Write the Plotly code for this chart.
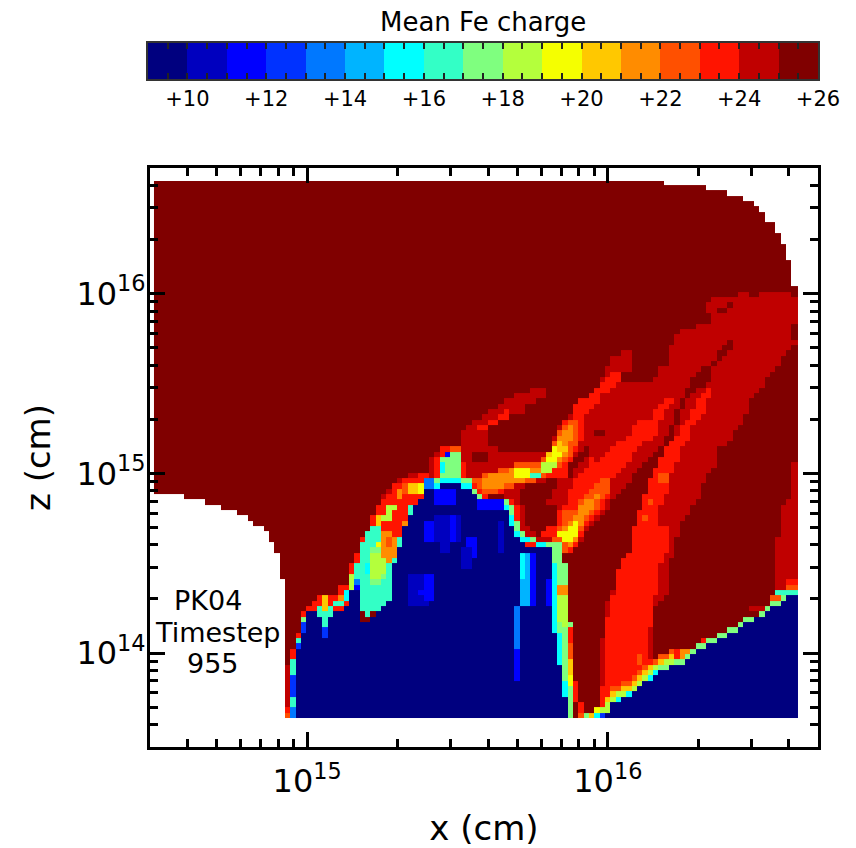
import numpy as np
import plotly.graph_objects as go

# Colour bands of the mean Fe charge scale (one band per unit charge)
BAND_EDGES = list(range(9, 27))
BAND_COLORS = ["#00007f", "#0000bf", "#0000ff", "#0032ff", "#0078ff", "#00b4ff", "#00ffff", "#33ffc6",
               "#7fff7f", "#b4ff3c", "#f5ff00", "#ffc800", "#ff8c00", "#ff5000", "#ff1400", "#c00000", "#800000"]
CBAR_MAJOR = [10, 12, 14, 16, 18, 20, 22, 24, 26]
CBAR_LABELS = ["+10", "+12", "+14", "+16", "+18", "+20", "+22", "+24", "+26"]
CBAR_MINOR = [9 + 0.5 * i for i in range(35) if (9 + 0.5 * i) not in CBAR_MAJOR]

# Digitised outlines of the charge regions, in digitising-grid units (x steps, z steps from the top-left
# corner of the simulated domain); converted to x and z with the calibration below.
DOMAIN = [(0,0),(483,0),(534,4),(561,8),(576,13),(587,17),(597,22),(602,26),(612,30),(612,39),(619,43),(623,52),(629,60),(634,73),(639,103),(644,103),(644,537),(130,537),(130,407),(126,382),(121,363),(115,356),(111,347),(100,342),(94,338),(79,331),(68,326),(53,321),(32,316),(0,312)]
PLUME_MAIN = [(456,179),(476,166),(478,182),(481,186),(468,191),(466,201),(479,201),(501,202),(502,192),(513,182),(513,171),(518,162),(523,152),(538,147),(555,142),(555,131),(549,127),(559,117),(583,117),(606,113),(613,111),(644,114),(644,161),(638,166),(633,171),(628,179),(623,187),(613,196),(612,207),(602,212),(595,222),(591,237),(581,247),(581,259),(564,266),(564,277),(556,292),(549,302),(544,321),(534,331),(528,342),(523,356),(518,374),(513,396),(513,416),(498,429),(498,519),(446,519),(446,419),(406,409),(376,364),(346,309),(386,289),(403,249),(413,236),(423,222),(439,209),(449,197)]
EDGE_RIGHT = [(639,282),(644,282),(644,409),(623,409),(623,356),(628,346),(628,322),(638,316),(638,289),(633,289)]
STREAK_UP = [(309,252),(316,242),(334,231),(341,226),(356,217),(366,212),(381,207),(388,205),(398,205),(392,209),(392,216),(378,222),(372,226),(366,234),(351,237),(346,242),(334,247),(334,266),(308,269)]
STREAK_LOW = [(308,269),(309,252),(334,252),(334,266),(368,272),(398,272),(388,282),(378,289),(361,287),(338,296),(318,299),(306,294)]
DARK_STREAK = [(573,159),(581,157),(581,164),(574,169),(568,179),(561,187),(555,192),(555,203),(541,207),(536,214),(530,224),(526,234),(522,247),(518,259),(510,274),(501,289),(494,304),(488,324),(482,334),(479,354),(476,364),(476,382),(466,396),(459,409),(455,419),(449,429),(449,456),(444,459),(444,501),(438,512),(438,524),(430,529),(423,532),(419,499),(413,447),(413,407),(406,409),(403,386),(409,374),(419,369),(429,356),(441,339),(454,327),(466,309),(476,299),(488,281),(504,269),(514,254),(523,229),(529,212),(536,201),(549,184),(558,186),(564,171)]
POCKET = [(368,306),(388,301),(403,296),(401,309),(388,326),(403,326),(403,342),(393,356),(388,357),(378,352),(373,347),(371,326),(368,322)]
BAND_MAIN = [(554,206),(559,206),(554,222),(546,237),(538,246),(538,259),(528,266),(523,279),(518,292),(513,312),(503,332),(503,346),(513,347),(513,372),(502,386),(502,416),(498,417),(498,446),(492,447),(492,476),(502,482),(506,499),(456,531),(443,531),(443,512),(449,501),(451,456),(454,429),(457,419),(462,399),(466,379),(476,369),(479,354),(482,334),(488,324),(493,306),(501,289),(511,267),(518,257),(523,254),(528,246),(534,239),(539,227),(549,212)]
BAND_MID = [(518,216),(518,224),(511,231),(503,242),(501,257),(486,262),(478,276),(474,282),(459,296),(458,312),(449,327),(434,341),(429,354),(424,359),(419,369),(409,372),(401,359),(386,356),(393,347),(401,342),(403,327),(411,326),(413,312),(423,292),(434,286),(436,277),(446,281),(456,269),(471,257),(483,242),(496,236),(501,231),(504,222)]
MID_O1 = [(456,296),(456,309),(446,322),(439,334),(429,342),(426,354),(419,364),(409,371),(398,356),(406,346),(409,332),(423,326),(429,316),(439,304)]
MID_O2 = [(444,314),(439,327),(429,339),(424,356),(418,366),(403,352),(423,332),(429,319)]
MID_Y = [(424,332),(427,332),(426,354),(414,362),(401,354),(409,352),(419,346)]
SPINE = [(449,202),(456,191),(466,191),(466,201),(458,207),(449,212),(444,224),(429,236),(429,257),(423,266),(419,279),(413,287),(413,296),(386,299),(361,304),(346,311),(329,317),(316,311),(316,301),(336,291),(356,285),(371,281),(386,282),(396,269),(403,252),(409,242),(419,236),(419,227),(423,222),(439,212)]
SPINE_O1 = [(421,237),(424,256),(421,267),(413,279),(401,287),(386,299),(361,305),(341,311),(324,314),(316,301),(336,292),(356,285),(371,282),(386,282),(396,267),(404,254),(413,241)]
SPINE_O2 = [(419,242),(418,256),(413,269),(408,279),(396,289),(376,299),(356,303),(336,308),(326,309),(326,297),(346,291),(361,287),(386,284),(398,267),(406,254)]
SPINE_O3 = [(409,256),(413,271),(406,277),(396,287),(386,293),(387,284),(398,266)]
SPINE_Y = [(399,266),(409,269),(408,277),(399,281),(391,285)]
SPINE_Y2 = [(361,287),(374,287),(374,299),(361,299)]
SPINE_GY = [(388,283),(402,281),(399,289),(389,294)]
SPINE_T = [(376,291),(389,289),(388,296),(378,300)]
PEAK_FRINGE = [(271,297),(278,277),(291,264),(291,297)]
MOUND_RIM = [(278,294),(283,277),(289,266),(304,264),(309,279),(311,294),(324,307),(336,317),(363,322),(370,357),(378,363),(404,359),(412,394),(412,409),(391,409),(346,359),(276,329)]
LEFT_FRINGE = [(224,321),(241,299),(271,289),(276,299),(246,319)]
LEFT_PLUME = [(151,429),(158,422),(163,417),(183,416),(184,407),(192,404),(194,394),(199,381),(204,372),(204,364),(209,356),(215,347),(219,334),(230,317),(241,304),(246,301),(256,296),(273,292),(279,297),(279,324),(266,344),(256,379),(238,424),(196,431)]
LP_TEAL = [(199,397),(204,376),(209,361),(216,347),(224,347),(231,379),(238,379),(238,419),(229,426),(216,431),(209,439),(206,409),(198,409)]
LP_G = [(216,364),(229,364),(234,394),(221,404),(214,409)]
LP_GY = [(218,374),(231,374),(231,394),(221,402),(217,394)]
LP_O = [(226,349),(239,349),(243,371),(238,384),(231,381),(227,364)]
LP_GY2 = [(231,324),(241,324),(238,337),(229,339)]
LP_O3 = [(219,336),(230,336),(226,347),(219,347)]
LP_T2 = [(216,347),(226,347),(224,361),(213,361)]
LP_RIM = [(239,379),(246,356),(251,342),(256,326),(263,326),(258,344),(249,364),(244,384),(238,409)]
MOUND_G = [(278,300),(284,294),(307,294),(316,297),(322,309),(332,317),(354,319),(362,329),(364,352),(371,360),(396,362),(408,362),(413,394),(416,439),(420,499),(421,537),(413,537),(409,501),(398,437),(398,367),(346,340),(290,330)]
MOUND_C = [(278,305),(284,299),(306,299),(315,302),(320,314),(330,322),(352,324),(358,334),(362,352),(368,362),(394,365),(399,368),(401,394),(404,437),(411,499),(415,537),(413,537),(398,437),(398,367),(346,345),(290,340)]
STRIP_1 = [(403,402),(413,404),(413,417),(404,417)]
STRIP_2 = [(403,417),(413,417),(414,444),(406,444)]
MOUND = [(142,537),(142,466),(146,461),(146,449),(152,447),(152,429),(162,429),(180,431),(191,426),(196,417),(198,409),(206,409),(207,439),(215,439),(229,428),(238,416),(238,394),(241,377),(246,364),(249,352),(253,342),(261,324),(266,319),(273,306),(286,305),(306,305),(319,312),(324,324),(351,324),(354,334),(361,352),(368,362),(376,367),(398,367),(398,437),(403,467),(409,501),(413,537)]
PEAK_G = [(291,269),(304,269),(307,294),(283,294),(284,282)]
STREAK_BRIGHT = [(324,247),(336,239),(354,229),(356,235),(343,241),(331,249)]
DARK_GAP = [(434,264),(434,274),(421,286),(419,296),(413,296),(413,287),(421,274)]
WEDGE_TOP = [(449,537),(455,527),(461,521),(476,516),(486,506),(496,498),(506,491),(518,486),(529,481),(539,472),(554,463),(569,456),(581,451),(591,442),(606,437),(613,428),(623,426),(629,421),(633,412),(644,412)]
WEDGE_BASE = [(644,537)]

# (charge, outline) painted in order
def box(a, b, c, d):
    return [(a, b), (c, b), (c, d), (a, d)]

def lifted(points, dv, closing):
    return [(u, v - dv) for u, v in points] + closing

WEDGE_LEFT = WEDGE_TOP[:8]
WEDGE_RIGHT = WEDGE_TOP[6:]

LAYERS = [
    (25.5, DOMAIN), (24.5, PLUME_MAIN), (24.5, EDGE_RIGHT), (24.5, STREAK_UP), (24.5, STREAK_LOW),
    (24.5, box(586, 109, 595, 114)),
    (25.5, box(319, 272, 331, 282)), (25.5, box(638, 140, 644, 161)), (25.5, box(564, 126, 574, 131)),
    (25.5, box(575, 122, 581, 126)), (25.5, box(439, 247, 449, 254)),
    (25.5, DARK_STREAK), (25.5, POCKET), (25.5, DARK_GAP),
    (23.5, BAND_MAIN), (23.5, BAND_MID), (23.5, SPINE), (23.5, STREAK_BRIGHT),
    (22.5, MID_O1), (21.5, MID_O2), (19.5, MID_Y),
    (22.5, SPINE_O1), (21.5, SPINE_O2), (20.5, SPINE_O3), (19.5, SPINE_Y), (19.5, SPINE_Y2), (18.5, SPINE_GY), (16.5, SPINE_T),
    (22.5, box(503, 291, 513, 302)), (22.5, box(491, 321, 498, 326)), (22.5, box(487, 334, 493, 339)), (22.5, box(481, 472, 487, 486)),
    (24.5, PEAK_FRINGE), (23.5, MOUND_RIM), (24.5, LEFT_FRINGE), (23.5, LEFT_PLUME),
    (16.5, LP_TEAL), (15.5, box(209, 384, 216, 391)), (13.5, box(198, 399, 206, 409)),
    (17.5, LP_G), (18.5, LP_GY), (19.5, box(219, 361, 226, 368)), (21.5, LP_O), (22.5, box(231, 358, 238, 365)),
    (18.5, LP_GY2), (20.5, LP_O3), (16.5, LP_T2),
    (21.5, box(241, 309, 249, 316)), (20.5, box(256, 301, 264, 312)), (19.5, box(266, 304, 273, 312)), (22.5, box(249, 301, 256, 312)),
    (16.5, LP_RIM), (21.5, box(246, 342, 251, 352)),
    (17.5, MOUND_G), (21.5, STRIP_1), (18.5, STRIP_2),
    (23.5, box(413, 446, 419, 462)), (22.5, box(413, 462, 419, 476)), (20.5, box(415, 476, 421, 494)),
    (19.5, box(416, 494, 421, 506)), (17.5, box(417, 506, 423, 522)), (23.5, box(419, 499, 424, 522)), (23.5, box(423, 522, 428, 532)),
    (15.5, MOUND_C), (13.5, box(271, 299, 281, 312)),
    (22.5, lifted(WEDGE_LEFT, 16, [(518, 537), (449, 537)])), (20.5, lifted(WEDGE_LEFT, 12, [(518, 537), (449, 537)])),
    (18.5, lifted(WEDGE_LEFT, 8, [(518, 537), (449, 537)])), (15.5, lifted(WEDGE_LEFT, 4, [(518, 537), (449, 537)])),
    (23.5, box(518, 469, 534, 479)), (21.5, box(528, 467, 534, 476)), (23.5, box(539, 462, 549, 467)), (23.5, box(549, 458, 554, 462)),
    (24.5, box(596, 426, 611, 432)), (22.5, box(618, 412, 629, 421)),
    (17.5, lifted(WEDGE_RIGHT, 5, [(644, 537), (506, 537)])),
    (23.5, box(630, 396, 644, 404)), (22.5, box(633, 404, 644, 409)), (16.5, box(623, 407, 644, 412)),
    (22.5, box(423, 532, 430, 537)), (17.5, box(430, 532, 434, 537)), (20.5, box(434, 532, 439, 537)),
    (15.5, box(439, 532, 444, 537)), (12.5, box(444, 532, 449, 537)),
    (19.5, box(439, 526, 444, 532)), (18.5, box(444, 524, 455, 530)),
    (9.5, WEDGE_TOP + WEDGE_BASE),
    (9.5, MOUND),
    (24.5, box(130, 486, 137, 524)), (23.5, box(130, 524, 137, 532)), (22.5, box(130, 532, 137, 537)),
    (23.5, box(137, 467, 142, 477)), (16.5, box(137, 477, 142, 497)), (12.5, box(137, 497, 142, 517)), (16.5, box(137, 517, 142, 529)), (13.5, box(137, 529, 142, 537)),
    (23.5, box(142, 451, 147, 456)), (16.5, box(142, 456, 147, 463)), (12.5, box(142, 463, 147, 467)),
    (23.5, box(147, 433, 152, 437)), (17.5, box(147, 437, 152, 442)), (12.5, box(147, 442, 152, 451)),
    (16.5, box(162, 427, 178, 437)), (20.5, box(170, 416, 176, 428)), (16.5, box(170, 437, 175, 449)), (12.5, box(170, 449, 175, 455)),
    (16.5, box(179, 421, 191, 427)), (21.5, box(184, 413, 192, 421)), (15.5, box(191, 410, 197, 420)),
    (18.5, box(194, 394, 199, 408)), (11.5, box(199, 402, 206, 411)),
    (11.5, box(278, 307, 304, 322)), (11.5, box(324, 321, 351, 327)),
    (10.5, box(278, 334, 308, 359)), (11.5, box(271, 342, 278, 359)), (11.5, box(294, 337, 304, 359)), (10.5, box(284, 359, 298, 372)),
    (11.5, box(314, 356, 324, 379)), (10.5, box(309, 369, 319, 389)), (10.5, box(344, 339, 351, 372)),
    (10.5, box(256, 394, 273, 426)), (11.5, box(266, 411, 273, 417)), (11.5, box(271, 394, 278, 421)), (11.5, box(391, 401, 398, 427)),
    (14.5, box(366, 372, 376, 424)), (15.5, box(366, 372, 372, 400)), (11.5, box(376, 372, 381, 424)),
    (13.5, box(361, 424, 367, 469)), (11.5, box(361, 469, 366, 501)),
    (17.5, PEAK_G), (19.5, box(299, 282, 304, 291)), (15.5, box(284, 281, 293, 292)), (11.5, box(292, 272, 297, 278)), (22.5, box(298, 265, 306, 269)),
]

# Calibration of the digitising grid
X_STEPS_PER_DECADE = 300.6
Z_STEPS_PER_DECADE = 179.7
X_AT_1E15 = 153.2
Z_AT_1E14 = 472.0
CELL = 5.33


def to_x(u):
    return 10 ** (15 + (np.asarray(u) - X_AT_1E15) / X_STEPS_PER_DECADE)


def to_z(v):
    return 10 ** (14 + (Z_AT_1E14 - np.asarray(v)) / Z_STEPS_PER_DECADE)


def inside(poly, X, Y):
    p = np.array(poly, dtype=float)
    xa, ya = p[:, 0], p[:, 1]
    xb, yb = np.roll(xa, 1), np.roll(ya, 1)
    hit = np.zeros(X.shape, dtype=bool)
    for x0, y0, x1, y1 in zip(xa, ya, xb, yb):
        if y0 == y1:
            continue
        cross = ((y0 > Y) != (y1 > Y)) & (X < (x1 - x0) * (Y - y0) / (y1 - y0) + x0)
        hit ^= cross
    return hit


u_edges = np.array([0.0] + [131 + CELL * k for k in range(-24, 97)] + [644.0])
v_edges = np.array([0.0] + [537 - CELL * k for k in range(100, -1, -1)])
u_mid = (u_edges[:-1] + u_edges[1:]) / 2
v_mid = (v_edges[:-1] + v_edges[1:]) / 2
UU, VV = np.meshgrid(u_mid, v_mid)
charge = np.full(UU.shape, np.nan)
for level, outline in LAYERS:
    charge[inside(outline, UU, VV)] = level
charge[~inside(DOMAIN, UU, VV)] = np.nan

# discrete colour scale
n = len(BAND_COLORS)
colorscale = []
for i, c in enumerate(BAND_COLORS):
    colorscale += [[i / n, c], [(i + 1) / n, c]]

FONT = "DejaVu Sans"
W, H = 856, 848
fig = go.Figure()
fig.add_trace(go.Heatmap(x=to_x(u_edges), y=to_z(v_edges), z=charge[:], colorscale=colorscale, zmin=9, zmax=26,
                         showscale=False, hoverongaps=False, xaxis="x", yaxis="y"))
fig.add_trace(go.Heatmap(x=BAND_EDGES, y=[0, 1], z=[[e + 0.5 for e in BAND_EDGES[:-1]]], colorscale=colorscale,
                         zmin=9, zmax=26, showscale=False, xaxis="x2", yaxis="y2"))

X_MAJOR = [1e15, 1e16]
Z_MAJOR = [1e14, 1e15, 1e16]
X_MINOR = [m * 10.0 ** e for e in (14, 15, 16) for m in range(2, 10) if 3e14 < m * 10.0 ** e < 5e16]
Z_MINOR = [m * 10.0 ** e for e in (13, 14, 15, 16) for m in range(2, 10) if 3e13 < m * 10.0 ** e < 5e16]


def log_axis(major, labels, minor, rng, domain, title, standoff, label_shift):
    return dict(type="log", range=[np.log10(rng[0]), np.log10(rng[1])], domain=domain, showgrid=False, zeroline=False,
                showline=True, linecolor="black", linewidth=3, mirror="allticks", ticks="inside", ticklen=15, tickwidth=3,
                tickcolor="black", tickmode="array", tickvals=major, ticktext=labels, ticklabelstandoff=label_shift,
                minor=dict(tickmode="array", tickvals=minor, ticks="inside", ticklen=8, tickwidth=3, tickcolor="black", showgrid=False),
                tickfont=dict(family=FONT, size=32, color="black"), automargin=False,
                title=dict(text=title, font=dict(family=FONT, size=34, color="black"), standoff=standoff))


def note(text, px, py, size):
    return dict(text=text, x=px / W, y=(H - py) / H, xref="paper", yref="paper", xanchor="center", yanchor="middle",
                showarrow=False, font=dict(family=FONT, size=size, color="black"))


fig.update_layout(
    width=W, height=H, autosize=False, margin=dict(l=0, r=0, t=0, b=0), paper_bgcolor="white", plot_bgcolor="white", showlegend=False,
    xaxis=log_axis(X_MAJOR, ["10<sup>15</sup>", "10<sup>16</sup>"], X_MINOR, (3e14, 5e16), [150 / W, 818 / W], "x (cm)", 17, 4),
    yaxis=log_axis(Z_MAJOR, ["10<sup>14</sup>", "10<sup>15</sup>", "10<sup>16</sup>"], Z_MINOR, (3e13, 5e16),
                   [(H - 747) / H, (H - 168) / H], "z (cm)", 16, -5),
    xaxis2=dict(range=[9, 26], domain=[148 / W, 818 / W], anchor="y2", showgrid=False, zeroline=False, showline=True,
                linecolor="#333333", linewidth=2, mirror="allticks", ticks="inside", ticklen=6, tickwidth=2, tickcolor="#222222",
                tickmode="array", tickvals=CBAR_MAJOR, ticktext=CBAR_LABELS, automargin=False,
                minor=dict(tickmode="array", tickvals=CBAR_MINOR, ticks="inside", ticklen=6, tickwidth=2, tickcolor="#222222", showgrid=False),
                tickfont=dict(family=FONT, size=21, color="black"), tickangle=0),
    yaxis2=dict(range=[0, 1], domain=[(H - 79) / H, (H - 43) / H], anchor="x2", showgrid=False, zeroline=False, showline=True, automargin=False,
                linecolor="#333333", linewidth=2, mirror=True, ticks="", showticklabels=False),
    annotations=[
        note("Mean Fe charge", 483, 22, 26),
        note("PK04", 208, 600, 27),
        note("Timestep", 217, 632, 27),
        note("955", 213, 663, 27),
    ],
)

fig.write_html("out.html", config=dict(displayModeBar=False),
               post_script="document.body.style.margin='0';document.documentElement.style.overflow='hidden';")
